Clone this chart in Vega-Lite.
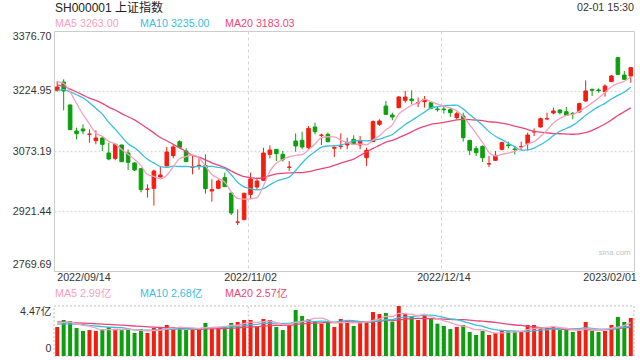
{
  "$schema": "https://vega.github.io/schema/vega-lite/v6.json",
  "padding": {"left": 11, "top": 0, "right": 0, "bottom": 0},
  "background": "white",
  "spacing": 0,
  "config": {
    "font": "'Liberation Sans', 'Noto Sans CJK SC', sans-serif",
    "view": {"stroke": null},
    "axis": {"labelFontSize": 10.7, "labelColor": "#333333", "ticks": false, "tickSize": 0, "domain": false}
  },
  "datasets": {
    "k": [
      {"d":"2022/09/14","o":3226.6,"h":3250.2,"l":3223.3,"c":3235.1,"m5":3248.6,"m10":3226.0,"m20":3240.4,"v":2.59,"v5":2.95,"v10":2.85,"v20":3.05},
      {"d":"2022/09/15","o":3247.7,"h":3254.5,"l":3176.1,"c":3225.0,"m5":3244.3,"m10":3228.3,"m20":3237.0,"v":3.22,"v5":3.00,"v10":2.87,"v20":3.03},
      {"d":"2022/09/16","o":3189.6,"h":3191.0,"l":3126.0,"c":3127.2,"m5":3222.6,"m10":3222.5,"m20":3229.5,"v":3.13,"v5":3.02,"v10":2.88,"v20":3.00},
      {"d":"2022/09/19","o":3123.8,"h":3132.2,"l":3102.7,"c":3117.0,"m5":3193.6,"m10":3215.5,"m20":3222.4,"v":2.50,"v5":2.90,"v10":2.85,"v20":2.97},
      {"d":"2022/09/20","o":3128.9,"h":3140.6,"l":3115.4,"c":3123.8,"m5":3165.6,"m10":3207.9,"m20":3214.7,"v":2.24,"v5":2.74,"v10":2.80,"v20":2.94},
      {"d":"2022/09/21","o":3115.5,"h":3128.0,"l":3094.3,"c":3116.2,"m5":3141.8,"m10":3195.2,"m20":3206.7,"v":2.32,"v5":2.68,"v10":2.74,"v20":2.91},
      {"d":"2022/09/22","o":3099.3,"h":3125.5,"l":3090.1,"c":3106.1,"m5":3118.1,"m10":3181.2,"m20":3201.3,"v":2.24,"v5":2.49,"v10":2.68,"v20":2.88},
      {"d":"2022/09/23","o":3106.1,"h":3111.1,"l":3073.2,"c":3090.1,"m5":3110.6,"m10":3166.6,"m20":3193.5,"v":2.38,"v5":2.34,"v10":2.62,"v20":2.85},
      {"d":"2022/09/26","o":3068.2,"h":3094.3,"l":3049.6,"c":3053.0,"m5":3097.8,"m10":3145.7,"m20":3184.3,"v":2.59,"v5":2.35,"v10":2.58,"v20":2.82},
      {"d":"2022/09/27","o":3054.7,"h":3091.0,"l":3049.6,"c":3090.1,"m5":3091.1,"m10":3128.4,"m20":3176.8,"v":2.32,"v5":2.37,"v10":2.55,"v20":2.79},
      {"d":"2022/09/28","o":3088.4,"h":3089.0,"l":3045.4,"c":3046.2,"m5":3077.1,"m10":3109.5,"m20":3167.7,"v":2.32,"v5":2.37,"v10":2.53,"v20":2.76},
      {"d":"2022/09/29","o":3068.2,"h":3077.4,"l":3025.2,"c":3044.6,"m5":3064.8,"m10":3091.4,"m20":3159.8,"v":2.38,"v5":2.40,"v10":2.44,"v20":2.72},
      {"d":"2022/09/30","o":3042.9,"h":3044.6,"l":3022.6,"c":3025.2,"m5":3051.8,"m10":3081.2,"m20":3151.9,"v":2.06,"v5":2.33,"v10":2.34,"v20":2.68},
      {"d":"2022/10/10","o":3028.5,"h":3028.5,"l":2968.7,"c":2975.5,"m5":3036.3,"m10":3067.1,"m20":3141.3,"v":2.38,"v5":2.29,"v10":2.32,"v20":2.64},
      {"d":"2022/10/11","o":2976.5,"h":2988.9,"l":2955.2,"c":2977.1,"m5":3013.7,"m10":3052.4,"m20":3130.2,"v":2.06,"v5":2.24,"v10":2.31,"v20":2.61},
      {"d":"2022/10/12","o":2978.8,"h":3026.0,"l":2935.0,"c":3022.6,"m5":3009.0,"m10":3043.1,"m20":3119.1,"v":2.50,"v5":2.28,"v10":2.32,"v20":2.58},
      {"d":"2022/10/13","o":3007.5,"h":3032.8,"l":3005.8,"c":3012.5,"m5":3002.6,"m10":3033.7,"m20":3107.4,"v":2.50,"v5":2.30,"v10":2.35,"v20":2.55},
      {"d":"2022/10/14","o":3035.3,"h":3083.4,"l":3035.3,"c":3070.7,"m5":3011.7,"m10":3031.8,"m20":3099.2,"v":2.77,"v5":2.44,"v10":2.39,"v20":2.52},
      {"d":"2022/10/17","o":3061.4,"h":3090.1,"l":3054.7,"c":3083.4,"m5":3033.3,"m10":3034.8,"m20":3090.3,"v":2.59,"v5":2.48,"v10":2.39,"v20":2.50},
      {"d":"2022/10/18","o":3096.8,"h":3100.2,"l":3080.0,"c":3082.5,"m5":3054.3,"m10":3034.0,"m20":3081.2,"v":2.50,"v5":2.57,"v10":2.41,"v20":2.48},
      {"d":"2022/10/19","o":3073.2,"h":3080.0,"l":3046.2,"c":3046.2,"m5":3059.1,"m10":3034.0,"m20":3071.8,"v":2.32,"v5":2.54,"v10":2.41,"v20":2.47},
      {"d":"2022/10/20","o":3032.0,"h":3063.1,"l":3014.2,"c":3032.8,"m5":3063.1,"m10":3032.9,"m20":3062.1,"v":2.38,"v5":2.51,"v10":2.41,"v20":2.42},
      {"d":"2022/10/21","o":3036.0,"h":3058.0,"l":3026.0,"c":3037.0,"m5":3056.4,"m10":3034.0,"m20":3057.6,"v":2.50,"v5":2.46,"v10":2.45,"v20":2.39},
      {"d":"2022/10/24","o":3036.1,"h":3064.8,"l":2965.3,"c":2978.0,"m5":3035.3,"m10":3034.3,"m20":3050.7,"v":2.95,"v5":2.53,"v10":2.51,"v20":2.42},
      {"d":"2022/10/25","o":2972.1,"h":3001.6,"l":2945.1,"c":2975.5,"m5":3013.9,"m10":3034.1,"m20":3043.3,"v":2.50,"v5":2.53,"v10":2.55,"v20":2.43},
      {"d":"2022/10/26","o":2978.8,"h":3001.6,"l":2976.3,"c":2997.4,"m5":3004.1,"m10":3031.6,"m20":3037.3,"v":2.59,"v5":2.58,"v10":2.56,"v20":2.44},
      {"d":"2022/10/27","o":3005.8,"h":3018.4,"l":2982.2,"c":2983.0,"m5":2994.2,"m10":3028.7,"m20":3031.2,"v":2.68,"v5":2.64,"v10":2.58,"v20":2.46},
      {"d":"2022/10/28","o":2967.0,"h":2967.0,"l":2911.4,"c":2916.4,"m5":2970.1,"m10":3013.2,"m20":3022.5,"v":2.95,"v5":2.73,"v10":2.60,"v20":2.49},
      {"d":"2022/10/31","o":2893.0,"h":2925.7,"l":2886.1,"c":2893.7,"m5":2953.2,"m10":2994.3,"m20":3014.5,"v":3.04,"v5":2.75,"v10":2.64,"v20":2.51},
      {"d":"2022/11/01","o":2899.6,"h":2967.9,"l":2899.6,"c":2966.2,"m5":2951.3,"m10":2982.6,"m20":3008.3,"v":3.22,"v5":2.90,"v10":2.71,"v20":2.56},
      {"d":"2022/11/02","o":2963.6,"h":3018.4,"l":2951.0,"c":3002.4,"m5":2952.3,"m10":2978.2,"m20":3006.1,"v":3.22,"v5":3.02,"v10":2.80,"v20":2.60},
      {"d":"2022/11/03","o":2982.1,"h":3005.7,"l":2976.2,"c":2997.3,"m5":2955.2,"m10":2974.7,"m20":3003.8,"v":2.59,"v5":3.00,"v10":2.82,"v20":2.62},
      {"d":"2022/11/04","o":2999.0,"h":3081.6,"l":2997.3,"c":3068.1,"m5":2985.5,"m10":2977.8,"m20":3005.9,"v":3.31,"v5":3.08,"v10":2.91,"v20":2.68},
      {"d":"2022/11/07","o":3064.8,"h":3087.5,"l":3054.6,"c":3075.7,"m5":3021.9,"m10":2987.6,"m20":3010.9,"v":3.22,"v5":3.11,"v10":2.93,"v20":2.72},
      {"d":"2022/11/08","o":3077.4,"h":3078.0,"l":3047.9,"c":3066.4,"m5":3042.0,"m10":2996.7,"m20":3015.4,"v":2.59,"v5":2.99,"v10":2.94,"v20":2.75},
      {"d":"2022/11/09","o":3064.8,"h":3073.2,"l":3046.2,"c":3051.3,"m5":3051.8,"m10":3002.1,"m20":3016.8,"v":2.32,"v5":2.81,"v10":2.91,"v20":2.74},
      {"d":"2022/11/10","o":3031.9,"h":3047.9,"l":3022.6,"c":3032.7,"m5":3058.8,"m10":3007.0,"m20":3017.8,"v":2.77,"v5":2.84,"v10":2.92,"v20":2.75},
      {"d":"2022/11/11","o":3098.5,"h":3117.9,"l":3071.5,"c":3085.8,"m5":3062.4,"m10":3024.0,"m20":3018.6,"v":4.11,"v5":3.00,"v10":3.04,"v20":2.82},
      {"d":"2022/11/14","o":3100.2,"h":3122.1,"l":3077.4,"c":3083.3,"m5":3063.9,"m10":3042.9,"m20":3018.6,"v":3.58,"v5":3.07,"v10":3.09,"v20":2.87},
      {"d":"2022/11/15","o":3081.6,"h":3136.4,"l":3077.4,"c":3130.5,"m5":3076.7,"m10":3059.4,"m20":3021.0,"v":3.31,"v5":3.22,"v10":3.10,"v20":2.91},
      {"d":"2022/11/16","o":3133.9,"h":3144.9,"l":3115.3,"c":3122.1,"m5":3090.9,"m10":3071.3,"m20":3024.8,"v":3.04,"v5":3.36,"v10":3.08,"v20":2.94},
      {"d":"2022/11/17","o":3112.8,"h":3117.0,"l":3088.4,"c":3113.6,"m5":3107.1,"m10":3083.0,"m20":3028.8,"v":2.89,"v5":3.39,"v10":3.11,"v20":2.97},
      {"d":"2022/11/18","o":3115.3,"h":3119.6,"l":3095.1,"c":3096.8,"m5":3109.3,"m10":3085.8,"m20":3031.8,"v":3.07,"v5":3.18,"v10":3.09,"v20":3.00},
      {"d":"2022/11/21","o":3080.0,"h":3085.0,"l":3058.0,"c":3082.5,"m5":3109.1,"m10":3086.5,"m20":3037.0,"v":2.59,"v5":2.98,"v10":3.03,"v20":2.98},
      {"d":"2022/11/22","o":3085.0,"h":3117.9,"l":3077.4,"c":3085.8,"m5":3100.2,"m10":3088.4,"m20":3042.6,"v":3.31,"v5":2.98,"v10":3.10,"v20":3.02},
      {"d":"2022/11/23","o":3088.4,"h":3106.9,"l":3077.4,"c":3095.1,"m5":3094.8,"m10":3092.8,"m20":3047.4,"v":3.13,"v5":3.00,"v10":3.18,"v20":3.05},
      {"d":"2022/11/24","o":3102.7,"h":3112.8,"l":3088.4,"c":3090.1,"m5":3090.1,"m10":3098.6,"m20":3052.8,"v":2.68,"v5":2.96,"v10":3.17,"v20":3.05},
      {"d":"2022/11/25","o":3088.4,"h":3111.1,"l":3077.4,"c":3098.5,"m5":3090.4,"m10":3099.8,"m20":3061.9,"v":3.07,"v5":2.96,"v10":3.07,"v20":3.05},
      {"d":"2022/11/28","o":3056.3,"h":3081.6,"l":3035.3,"c":3074.9,"m5":3088.9,"m10":3099.0,"m20":3071.0,"v":3.07,"v5":3.05,"v10":3.02,"v20":3.05},
      {"d":"2022/11/29","o":3096.8,"h":3150.8,"l":3096.0,"c":3147.4,"m5":3101.2,"m10":3100.7,"m20":3080.0,"v":3.93,"v5":3.18,"v10":3.08,"v20":3.09},
      {"d":"2022/11/30","o":3140.6,"h":3153.3,"l":3136.4,"c":3149.1,"m5":3112.0,"m10":3103.4,"m20":3087.4,"v":3.75,"v5":3.30,"v10":3.15,"v20":3.12},
      {"d":"2022/12/01","o":3187.0,"h":3199.6,"l":3164.2,"c":3165.9,"m5":3127.2,"m10":3108.6,"m20":3095.8,"v":3.84,"v5":3.53,"v10":3.24,"v20":3.18},
      {"d":"2022/12/02","o":3164.2,"h":3170.1,"l":3150.8,"c":3159.2,"m5":3139.3,"m10":3114.9,"m20":3100.3,"v":3.07,"v5":3.53,"v10":3.24,"v20":3.17},
      {"d":"2022/12/05","o":3182.8,"h":3212.3,"l":3181.1,"c":3209.8,"m5":3166.3,"m10":3127.6,"m20":3107.0,"v":4.47,"v5":3.81,"v10":3.43,"v20":3.23},
      {"d":"2022/12/06","o":3201.3,"h":3225.0,"l":3195.4,"c":3209.8,"m5":3178.8,"m10":3140.0,"m20":3114.2,"v":3.75,"v5":3.78,"v10":3.48,"v20":3.29},
      {"d":"2022/12/07","o":3204.7,"h":3226.6,"l":3191.2,"c":3200.5,"m5":3189.0,"m10":3150.5,"m20":3121.7,"v":3.58,"v5":3.74,"v10":3.52,"v20":3.35},
      {"d":"2022/12/08","o":3194.6,"h":3208.1,"l":3184.5,"c":3195.4,"m5":3194.9,"m10":3161.1,"m20":3129.8,"v":3.22,"v5":3.62,"v10":3.58,"v20":3.37},
      {"d":"2022/12/09","o":3198.0,"h":3212.3,"l":3182.8,"c":3203.9,"m5":3203.9,"m10":3171.6,"m20":3135.7,"v":3.67,"v5":3.74,"v10":3.64,"v20":3.35},
      {"d":"2022/12/12","o":3195.4,"h":3198.0,"l":3178.6,"c":3181.1,"m5":3198.1,"m10":3182.2,"m20":3140.6,"v":3.31,"v5":3.51,"v10":3.66,"v20":3.34},
      {"d":"2022/12/13","o":3179.4,"h":3184.5,"l":3172.7,"c":3177.7,"m5":3191.7,"m10":3185.2,"m20":3143.0,"v":2.89,"v5":3.33,"v10":3.56,"v20":3.32},
      {"d":"2022/12/14","o":3179.4,"h":3187.0,"l":3167.6,"c":3177.7,"m5":3187.2,"m10":3188.1,"m20":3145.7,"v":2.68,"v5":3.15,"v10":3.45,"v20":3.30},
      {"d":"2022/12/15","o":3177.7,"h":3182.8,"l":3159.2,"c":3170.1,"m5":3182.1,"m10":3188.5,"m20":3148.6,"v":2.41,"v5":2.99,"v10":3.31,"v20":3.27},
      {"d":"2022/12/16","o":3157.5,"h":3172.7,"l":3153.3,"c":3167.6,"m5":3174.8,"m10":3189.4,"m20":3152.1,"v":2.59,"v5":2.78,"v10":3.26,"v20":3.25},
      {"d":"2022/12/19","o":3161.7,"h":3170.1,"l":3096.8,"c":3106.9,"m5":3160.0,"m10":3179.1,"m20":3153.3,"v":2.77,"v5":2.67,"v10":3.09,"v20":3.26},
      {"d":"2022/12/20","o":3100.2,"h":3101.0,"l":3063.1,"c":3074.9,"m5":3139.4,"m10":3165.6,"m20":3152.8,"v":2.15,"v5":2.52,"v10":2.93,"v20":3.20},
      {"d":"2022/12/21","o":3079.1,"h":3085.8,"l":3060.5,"c":3069.0,"m5":3117.7,"m10":3152.4,"m20":3151.5,"v":1.88,"v5":2.36,"v10":2.76,"v20":3.14},
      {"d":"2022/12/22","o":3085.0,"h":3087.5,"l":3045.4,"c":3056.3,"m5":3094.9,"m10":3138.5,"m20":3149.8,"v":2.24,"v5":2.33,"v10":2.66,"v20":3.12},
      {"d":"2022/12/23","o":3040.3,"h":3060.5,"l":3032.7,"c":3041.1,"m5":3069.6,"m10":3122.2,"m20":3146.9,"v":1.88,"v5":2.18,"v10":2.48,"v20":3.06},
      {"d":"2022/12/26","o":3049.6,"h":3073.2,"l":3047.9,"c":3062.2,"m5":3060.7,"m10":3110.4,"m20":3146.3,"v":2.06,"v5":2.04,"v10":2.36,"v20":3.01},
      {"d":"2022/12/27","o":3077.4,"h":3096.8,"l":3074.9,"c":3094.3,"m5":3064.6,"m10":3102.0,"m20":3143.6,"v":2.24,"v5":2.06,"v10":2.29,"v20":2.92},
      {"d":"2022/12/28","o":3088.4,"h":3096.8,"l":3079.9,"c":3086.7,"m5":3068.1,"m10":3092.9,"m20":3140.5,"v":2.24,"v5":2.13,"v10":2.25,"v20":2.85},
      {"d":"2022/12/29","o":3078.2,"h":3085.8,"l":3064.8,"c":3076.5,"m5":3072.2,"m10":3083.6,"m20":3136.0,"v":2.24,"v5":2.13,"v10":2.23,"v20":2.77},
      {"d":"2022/12/30","o":3083.3,"h":3096.8,"l":3074.9,"c":3084.2,"m5":3080.8,"m10":3075.2,"m20":3132.3,"v":2.24,"v5":2.20,"v10":2.19,"v20":2.73},
      {"d":"2023/01/03","o":3091.7,"h":3119.6,"l":3074.9,"c":3113.7,"m5":3091.1,"m10":3075.9,"m20":3127.5,"v":2.77,"v5":2.35,"v10":2.19,"v20":2.64},
      {"d":"2023/01/04","o":3121.2,"h":3130.5,"l":3111.1,"c":3122.1,"m5":3096.6,"m10":3080.6,"m20":3123.1,"v":2.77,"v5":2.45,"v10":2.26,"v20":2.59},
      {"d":"2023/01/05","o":3133.9,"h":3157.5,"l":3132.2,"c":3155.0,"m5":3110.3,"m10":3089.2,"m20":3120.8,"v":2.50,"v5":2.50,"v10":2.32,"v20":2.54},
      {"d":"2023/01/06","o":3154.1,"h":3170.1,"l":3152.4,"c":3155.0,"m5":3126.0,"m10":3099.1,"m20":3118.8,"v":2.50,"v5":2.56,"v10":2.34,"v20":2.50},
      {"d":"2023/01/09","o":3169.3,"h":3182.8,"l":3165.9,"c":3174.4,"m5":3144.0,"m10":3112.4,"m20":3117.3,"v":2.59,"v5":2.63,"v10":2.42,"v20":2.45},
      {"d":"2023/01/10","o":3176.9,"h":3178.6,"l":3165.9,"c":3170.1,"m5":3155.3,"m10":3123.2,"m20":3116.8,"v":2.32,"v5":2.54,"v10":2.44,"v20":2.40},
      {"d":"2023/01/11","o":3172.7,"h":3184.5,"l":3161.7,"c":3163.4,"m5":3163.6,"m10":3130.1,"m20":3116.1,"v":2.38,"v5":2.46,"v10":2.46,"v20":2.37},
      {"d":"2023/01/12","o":3168.5,"h":3171.8,"l":3153.3,"c":3166.8,"m5":3165.9,"m10":3138.1,"m20":3115.5,"v":2.15,"v5":2.39,"v10":2.45,"v20":2.35},
      {"d":"2023/01/13","o":3171.8,"h":3195.4,"l":3170.1,"c":3192.9,"m5":3173.5,"m10":3149.8,"m20":3116.7,"v":2.24,"v5":2.34,"v10":2.45,"v20":2.34},
      {"d":"2023/01/16","o":3199.7,"h":3251.9,"l":3198.0,"c":3225.0,"m5":3183.6,"m10":3163.8,"m20":3119.5,"v":3.04,"v5":2.43,"v10":2.53,"v20":2.36},
      {"d":"2023/01/17","o":3229.2,"h":3230.9,"l":3212.3,"c":3226.6,"m5":3194.9,"m10":3175.1,"m20":3125.5,"v":2.24,"v5":2.41,"v10":2.47,"v20":2.33},
      {"d":"2023/01/18","o":3227.5,"h":3231.7,"l":3220.7,"c":3225.8,"m5":3207.4,"m10":3185.5,"m20":3133.1,"v":2.15,"v5":2.36,"v10":2.41,"v20":2.33},
      {"d":"2023/01/19","o":3223.3,"h":3241.8,"l":3210.6,"c":3237.6,"m5":3221.6,"m10":3193.8,"m20":3141.5,"v":2.24,"v5":2.38,"v10":2.39,"v20":2.35},
      {"d":"2023/01/20","o":3248.6,"h":3265.4,"l":3247.7,"c":3262.9,"m5":3235.6,"m10":3204.6,"m20":3151.8,"v":2.77,"v5":2.49,"v10":2.41,"v20":2.38},
      {"d":"2023/01/30","o":3309.3,"h":3311.0,"l":3265.4,"c":3267.1,"m5":3244.0,"m10":3213.8,"m20":3163.1,"v":3.49,"v5":2.58,"v10":2.50,"v20":2.46},
      {"d":"2023/01/31","o":3265.4,"h":3275.5,"l":3252.8,"c":3254.5,"m5":3249.6,"m10":3222.3,"m20":3172.7,"v":3.04,"v5":2.74,"v10":2.57,"v20":2.51},
      {"d":"2023/02/01","o":3262.9,"h":3285.6,"l":3246.0,"c":3284.0,"m5":3261.2,"m10":3234.3,"m20":3182.2,"v":3.40,"v5":2.99,"v10":2.68,"v20":2.57}
    ]
  },
  "vconcat": [
    {
      "width": 580,
      "height": 15,
      "layer": [
        {
          "data": {"values": [{"k": "L", "t": "SH000001 上证指数"}]},
          "mark": {"type": "text", "align": "left", "baseline": "middle", "fontSize": 12, "color": "#222222", "dx": 1, "dy": 0.5},
          "encoding": {
            "x": {"field": "k", "type": "nominal", "scale": {"type": "point", "domain": ["L", "R"], "padding": 0}, "axis": null},
            "text": {"field": "t"}
          }
        },
        {
          "data": {"values": [{"k": "R", "t": "02-01 15:30"}]},
          "mark": {"type": "text", "align": "right", "baseline": "middle", "fontSize": 10.7, "color": "#333333", "dy": 0.5},
          "encoding": {
            "x": {"field": "k", "type": "nominal", "scale": {"type": "point", "domain": ["L", "R"], "padding": 0}, "axis": null},
            "text": {"field": "t"}
          }
        }
      ]
    },
    {
      "width": 255,
      "height": 13,
      "data": {"values": [{"s": "MA5", "t": "MA5 3263.00"}, {"s": "MA10", "t": "MA10 3235.00"}, {"s": "MA20", "t": "MA20 3183.03"}]},
      "mark": {"type": "text", "align": "left", "baseline": "middle", "fontSize": 10.7, "dy": 2, "dx": 1},
      "encoding": {
        "x": {"field": "s", "type": "nominal", "bandPosition": 0, "scale": {"type": "band", "domain": ["MA5", "MA10", "MA20"], "paddingInner": 0, "paddingOuter": 0}, "axis": null},
        "text": {"field": "t"},
        "color": {"field": "s", "type": "nominal", "scale": {"domain": ["MA5", "MA10", "MA20"], "range": ["#f5a0bf", "#38c0df", "#ec4677"]}, "legend": null}
      }
    },
    {
      "width": 580,
      "height": 240,
      "view": {"stroke": "#cccccc"},
      "data": {"name": "k"},
      "encoding": {
        "x": {
          "field": "d", "type": "ordinal", "title": null,
          "scale": {"type": "band", "paddingInner": 0, "paddingOuter": 0},
          "axis": {
            "values": ["2022/09/14", "2022/11/02", "2022/12/14", "2023/02/01"],
            "labelAngle": 0, "labelPadding": 1, "bandPosition": 0.2, "labelFlush": 10,
            "labelOffset": {"condition": {"test": "datum.value === '2023/02/01'", "value": 6}, "value": 0},
            "grid": true, "gridColor": "#d4d4d4", "gridDash": [3, 3], "gridWidth": 1,
            "gridOpacity": {"condition": {"test": "datum.value === '2022/11/02' || datum.value === '2022/12/14'", "value": 1}, "value": 0}
          }
        }
      },
      "layer": [
        {
          "mark": {"type": "rule", "strokeWidth": 1},
          "encoding": {
            "y": {
              "field": "l", "type": "quantitative", "title": null,
              "scale": {"domain": [2769.69, 3376.70], "nice": false, "zero": false},
              "axis": {
                "values": [2769.69, 2921.44, 3073.19, 3224.95, 3376.70], "format": ".2f",
                "labelFlush": true, "labelPadding": 3,
                "labelOffset": {"condition": {"test": "datum.value < 2800", "value": -2}, "value": 0},
                "grid": true, "gridColor": "#dcdcdc", "gridDash": [2, 2], "gridWidth": 1.5,
                "gridOpacity": {"condition": {"test": "datum.value < 2800 || datum.value > 3370", "value": 0}, "value": 1}
              }
            },
            "y2": {"field": "h"},
            "color": {"condition": {"test": "datum.c >= datum.o", "value": "#f41e10"}, "value": "#0e9f0e"}
          }
        },
        {
          "mark": {"type": "bar", "width": 3.6, "strokeWidth": 1},
          "encoding": {
            "y": {"field": "o", "type": "quantitative", "title": null},
            "y2": {"field": "c"},
            "color": {"condition": {"test": "datum.c >= datum.o", "value": "#f41e10"}, "value": "#0e9f0e"},
            "stroke": {"condition": {"test": "datum.c >= datum.o", "value": "#f41e10"}, "value": "#0e9f0e"}
          }
        },
        {
          "mark": {"type": "line", "strokeWidth": 1.3, "color": "#ec4677", "interpolate": "monotone"},
          "encoding": {"y": {"field": "m20", "type": "quantitative", "title": null}}
        },
        {
          "mark": {"type": "line", "strokeWidth": 1.3, "color": "#38c0df", "interpolate": "monotone"},
          "encoding": {"y": {"field": "m10", "type": "quantitative", "title": null}}
        },
        {
          "mark": {"type": "line", "strokeWidth": 1.3, "color": "#f5a0bf", "interpolate": "monotone"},
          "encoding": {"y": {"field": "m5", "type": "quantitative", "title": null}}
        },
        {
          "data": {"values": [{"d": "2023/02/01", "v": 2814, "t": "sina.com"}]},
          "mark": {"type": "text", "align": "right", "baseline": "middle", "fontSize": 8, "color": "#c4c4c4"},
          "encoding": {
            "y": {"field": "v", "type": "quantitative", "title": null},
            "text": {"field": "t"}
          }
        }
      ]
    },
    {
      "width": 255,
      "height": 21,
      "data": {"values": [{"s": "MA5", "t": "MA5 2.99亿"}, {"s": "MA10", "t": "MA10 2.68亿"}, {"s": "MA20", "t": "MA20 2.57亿"}]},
      "mark": {"type": "text", "align": "left", "baseline": "middle", "fontSize": 10.7, "dx": 1},
      "encoding": {
        "x": {"field": "s", "type": "nominal", "bandPosition": 0, "scale": {"type": "band", "domain": ["MA5", "MA10", "MA20"], "paddingInner": 0, "paddingOuter": 0}, "axis": null},
        "text": {"field": "t"},
        "color": {"field": "s", "type": "nominal", "scale": {"domain": ["MA5", "MA10", "MA20"], "range": ["#f5a0bf", "#38c0df", "#ec4677"]}, "legend": null}
      }
    },
    {
      "width": 580,
      "height": 50,
      "view": {"stroke": "#d4d4d4", "strokeDash": [2, 2], "strokeWidth": 1.5},
      "data": {"name": "k"},
      "encoding": {
        "x": {
          "field": "d", "type": "ordinal", "title": null,
          "scale": {"type": "band", "paddingInner": 0, "paddingOuter": 0},
          "axis": {"values": ["2022/11/02", "2022/12/14"], "labels": false, "bandPosition": 0.2, "grid": true, "gridColor": "#d4d4d4", "gridDash": [2, 2], "gridWidth": 1.5}
        }
      },
      "layer": [
        {
          "mark": {"type": "bar", "width": 4},
          "encoding": {
            "y": {
              "field": "v", "type": "quantitative", "title": null,
              "scale": {"domain": [0, 4.47], "nice": false, "zero": true},
              "axis": {"values": [0, 4.47], "labelExpr": "datum.value == 0 ? '0' : '4.47亿'", "labelFlush": true, "labelPadding": 3, "grid": false,
                "labelOffset": {"condition": {"test": "datum.value == 0", "value": -3}, "value": 0}}
            },
            "color": {"condition": {"test": "datum.c >= datum.o", "value": "#f41e10"}, "value": "#0e9f0e"}
          }
        },
        {
          "mark": {"type": "line", "strokeWidth": 1.3, "color": "#ec4677", "interpolate": "monotone"},
          "encoding": {"y": {"field": "v20", "type": "quantitative", "title": null}}
        },
        {
          "mark": {"type": "line", "strokeWidth": 1.3, "color": "#38c0df", "interpolate": "monotone"},
          "encoding": {"y": {"field": "v10", "type": "quantitative", "title": null}}
        },
        {
          "mark": {"type": "line", "strokeWidth": 1.3, "color": "#f5a0bf", "interpolate": "monotone"},
          "encoding": {"y": {"field": "v5", "type": "quantitative", "title": null}}
        }
      ]
    }
  ]
}
